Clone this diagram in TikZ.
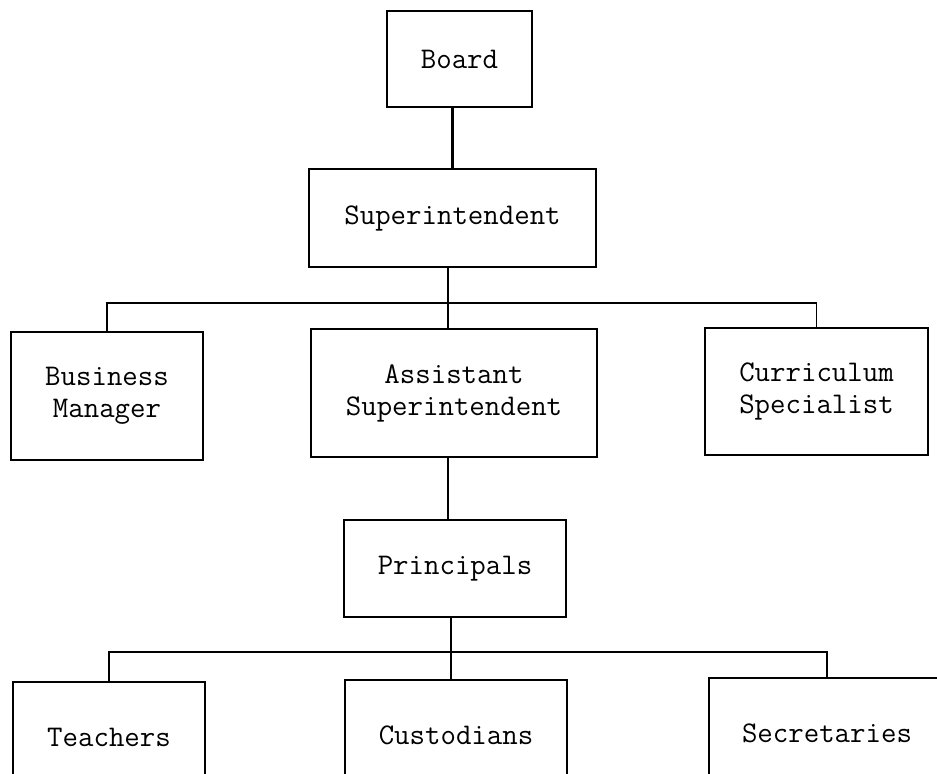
\documentclass[tikz,border=0pt]{standalone}
\usepackage{tikz}

\begin{document}
\begin{tikzpicture}[
  x=0.5pt, y=-0.5pt,
  box/.style={rectangle, draw, line width=0.9pt, align=center,
              font=\ttfamily\fontsize{15}{16}\selectfont,
              inner sep=0pt},
  link/.style={draw, line width=0.9pt},
  spine/.style={draw, line width=1.4pt}
]
\clip (0,0) rectangle (937,773);
% top of the chart
\node[box, minimum width=72.5pt, minimum height=48pt]   (board) at (459.5,59)  {Board};
\node[box, minimum width=143.5pt, minimum height=49pt]  (super) at (452.5,218) {Superintendent};
% second level
\node[box, minimum width=96pt,   minimum height=64pt]   (bm)    at (107,396)   {Business\\Manager};
\node[box, minimum width=143pt,  minimum height=64pt]   (asst)  at (454,393)   {Assistant\\Superintendent};
\node[box, minimum width=111.5pt, minimum height=63.5pt] (cs)   at (816.5,391.5) {Curriculum\\Specialist};
\node[box, minimum width=111pt,  minimum height=48.5pt] (prin)  at (455,568.5) {Principals};
% bottom row, cut off by the page edge
\node[box, minimum width=96pt,   minimum height=55pt]   (teach) at (109,737)   {Teachers};
\node[box, minimum width=111pt,  minimum height=55pt]   (cust)  at (456,735)   {Custodians};
\node[box, minimum width=118pt,  minimum height=55pt]   (sec)   at (827,733)   {Secretaries};
\coordinate (bus1) at (448,303);
\coordinate (bus2) at (451,652);
\draw[spine] (super.north) -- (super.north |- board.south);
\draw[spine] (bus1 |- super.south) -- (bus1 |- asst.north);
\draw[link] (bm.north) -- (bm.north |- bus1) -- (cs.north |- bus1) -- (cs.north);
\draw[spine] (bus1 |- asst.south) -- (bus1 |- prin.north);
\draw[spine] (bus2 |- prin.south) -- (bus2 |- cust.north);
\draw[link] (teach.north) -- (teach.north |- bus2) -- (sec.north |- bus2) -- (sec.north);
\end{tikzpicture}
\end{document}
